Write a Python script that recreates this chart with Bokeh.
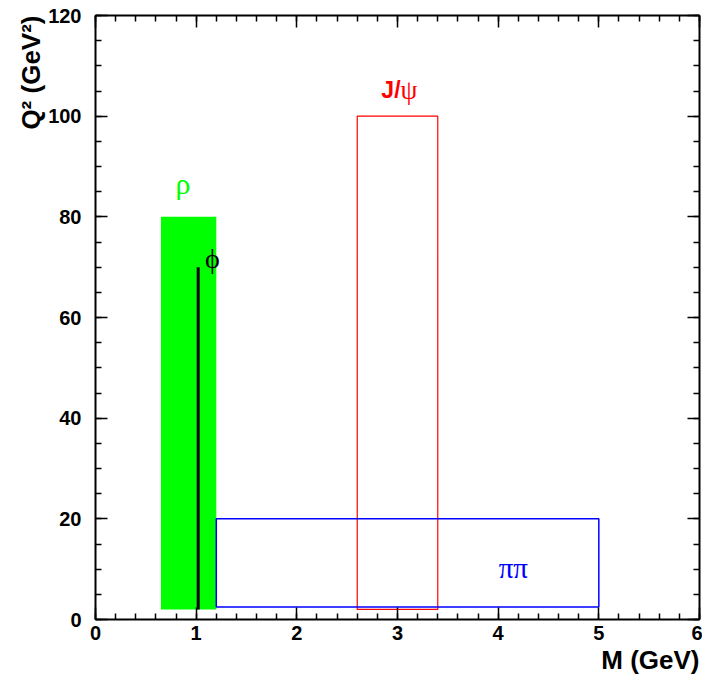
from bokeh.plotting import figure
from bokeh.models import Range1d, LinearAxis, SingleIntervalTicker, Label, Title
from bokeh.embed import file_html
from bokeh.resources import INLINE

# ---- data ----
box_names = ["rho", "jpsi", "pipi"]
box_left = [0.65, 2.6, 1.2]
box_right = [1.2, 3.4, 5.0]
box_bottom = [2.0, 2.0, 2.5]
box_top = [80.0, 100.0, 20.0]

phi_x = [1.02, 1.02]
phi_y = [2.0, 70.0]

x_range = (0, 6)
y_range = (0, 120)

FONT = "Liberation Sans"
SERIF = "Liberation Serif"

p = figure(width=702, height=675, output_backend="svg", toolbar_location=None,
           x_range=Range1d(*x_range), y_range=Range1d(*y_range),
           min_border_left=95, min_border_right=3, min_border_top=15,
           min_border_bottom=56, outline_line_color=None)
p.xgrid.visible = False
p.ygrid.visible = False
p.background_fill_color = "white"
p.border_fill_color = "white"

# green rho band
p.quad(left=[box_left[0]], right=[box_right[0]], bottom=[box_bottom[0]], top=[box_top[0]],
       fill_color="#00ff00", line_color=None)
# phi line
p.line(phi_x, phi_y, line_color="black", line_width=3)
# J/psi box
p.quad(left=[box_left[1]], right=[box_right[1]], bottom=[box_bottom[1]], top=[box_top[1]],
       fill_color=None, line_color="#ff0000", line_width=1.2)
# pipi box
p.quad(left=[box_left[2]], right=[box_right[2]], bottom=[box_bottom[2]], top=[box_top[2]],
       fill_color=None, line_color="#0000ff", line_width=1.5)


def style_axis(ax, standoff=10):
    ax.axis_line_width = 2
    ax.axis_line_color = "black"
    ax.major_tick_in = 12
    ax.major_tick_out = 0
    ax.minor_tick_in = 6
    ax.minor_tick_out = 0
    ax.major_tick_line_width = 1.5
    ax.minor_tick_line_width = 1.5
    ax.major_tick_line_color = "black"
    ax.minor_tick_line_color = "black"
    ax.major_label_text_font = FONT
    ax.major_label_text_font_style = "bold"
    ax.major_label_text_font_size = "20px"
    ax.major_label_text_color = "black"
    ax.major_label_standoff = standoff


p.xaxis.ticker = SingleIntervalTicker(interval=1, num_minor_ticks=5)
p.yaxis.ticker = SingleIntervalTicker(interval=20, num_minor_ticks=4)
style_axis(p.xaxis[0], 6)
style_axis(p.yaxis[0], 14)

x_tick_vals = [0, 1, 2, 3, 4, 5, 6]
y_tick_vals = [0, 20, 40, 60, 80, 100, 120]

top_ax = LinearAxis(ticker=SingleIntervalTicker(interval=1, num_minor_ticks=5),
                    major_label_overrides={v: "" for v in x_tick_vals})
style_axis(top_ax, standoff=0)
p.add_layout(top_ax, "above")
right_ax = LinearAxis(ticker=SingleIntervalTicker(interval=20, num_minor_ticks=4),
                      major_label_overrides={v: "" for v in y_tick_vals})
style_axis(right_ax, standoff=0)
p.add_layout(right_ax, "right")

# axis titles
p.add_layout(Title(text="M (GeV)", align="right", text_font=FONT, text_font_style="bold",
                   text_font_size="26px", text_color="black", standoff=0, offset=0),
             "below")
p.add_layout(Title(text="Q² (GeV²)", align="right", text_font=FONT, text_font_style="bold",
                   text_font_size="26px", text_color="black", standoff=0, offset=0),
             "left")

# annotations
p.add_layout(Label(x=0.87, y=86.6, text="ρ", text_align="center", text_baseline="alphabetic",
                   text_font=SERIF, text_font_size="30px", text_color="#00ff00"))
p.add_layout(Label(x=1.16, y=71.7, text="ϕ", text_align="center", text_baseline="alphabetic",
                   text_font=SERIF, text_font_size="28px", text_color="black"))
p.add_layout(Label(x=3.03, y=105.2, text="J/", text_align="right", text_baseline="alphabetic",
                   text_font=FONT, text_font_style="bold", text_font_size="23px",
                   text_color="#ff0000"))
p.add_layout(Label(x=3.03, y=105.2, text="ψ", text_align="left", text_baseline="alphabetic",
                   text_font=SERIF, text_font_size="27px", text_color="#ff0000"))
p.add_layout(Label(x=4.15, y=10.3, text="ππ", text_align="center", text_baseline="alphabetic",
                   text_font=SERIF, text_font_size="29px", text_color="#0000ff"))

open("out.html", "w").write(file_html(p, INLINE))
